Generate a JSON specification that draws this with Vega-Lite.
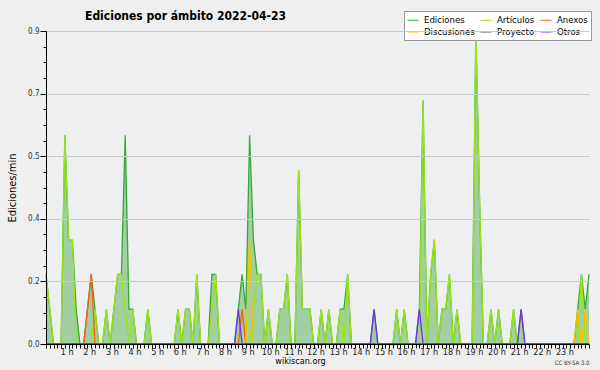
{
"$schema": "https://vega.github.io/schema/vega-lite/v6.json",
"width": 543, "height": 313,
"autosize": {"type": "none"},
"padding": {"left": 46, "top": 31, "right": 11, "bottom": 26},
"background": "#efefef",
"config": {"view": {"stroke": null, "fill": "#eeeff1"}, "font": "DejaVu Sans Condensed, DejaVu Sans"},
"title": {"text": "Ediciones por ámbito  2022-04-23", "anchor": "start", "frame": "group", "dx": 39, "offset": -21, "baseline": "alphabetic", "fontSize": 12, "fontWeight": "bold", "font": "DejaVu Sans Condensed, DejaVu Sans", "color": "#000"},
"data": {"values": [
{"minuto":0,"Ediciones":0.2,"Artículos":0.2,"Anexos":0,"Discusiones":0,"Proyecto":0,"Otros":0},
{"minuto":10,"Ediciones":0.1,"Artículos":0.1,"Anexos":0,"Discusiones":0,"Proyecto":0,"Otros":0},
{"minuto":20,"Ediciones":0,"Artículos":0,"Anexos":0,"Discusiones":0,"Proyecto":0,"Otros":0},
{"minuto":30,"Ediciones":0,"Artículos":0,"Anexos":0,"Discusiones":0,"Proyecto":0,"Otros":0},
{"minuto":40,"Ediciones":0,"Artículos":0,"Anexos":0,"Discusiones":0,"Proyecto":0,"Otros":0},
{"minuto":50,"Ediciones":0.6,"Artículos":0.6,"Anexos":0,"Discusiones":0,"Proyecto":0,"Otros":0},
{"minuto":60,"Ediciones":0.3,"Artículos":0.3,"Anexos":0,"Discusiones":0,"Proyecto":0,"Otros":0},
{"minuto":70,"Ediciones":0.3,"Artículos":0.3,"Anexos":0,"Discusiones":0,"Proyecto":0,"Otros":0},
{"minuto":80,"Ediciones":0.1,"Artículos":0,"Anexos":0,"Discusiones":0,"Proyecto":0,"Otros":0},
{"minuto":90,"Ediciones":0,"Artículos":0,"Anexos":0,"Discusiones":0,"Proyecto":0,"Otros":0},
{"minuto":100,"Ediciones":0,"Artículos":0,"Anexos":0,"Discusiones":0,"Proyecto":0,"Otros":0},
{"minuto":110,"Ediciones":0.1,"Artículos":0,"Anexos":0.1,"Discusiones":0,"Proyecto":0,"Otros":0},
{"minuto":120,"Ediciones":0.2,"Artículos":0,"Anexos":0.2,"Discusiones":0,"Proyecto":0,"Otros":0},
{"minuto":130,"Ediciones":0.1,"Artículos":0.1,"Anexos":0,"Discusiones":0,"Proyecto":0,"Otros":0},
{"minuto":140,"Ediciones":0,"Artículos":0,"Anexos":0,"Discusiones":0,"Proyecto":0,"Otros":0},
{"minuto":150,"Ediciones":0,"Artículos":0,"Anexos":0,"Discusiones":0,"Proyecto":0,"Otros":0},
{"minuto":160,"Ediciones":0.1,"Artículos":0.1,"Anexos":0,"Discusiones":0,"Proyecto":0,"Otros":0},
{"minuto":170,"Ediciones":0,"Artículos":0,"Anexos":0,"Discusiones":0,"Proyecto":0,"Otros":0},
{"minuto":180,"Ediciones":0.1,"Artículos":0.1,"Anexos":0,"Discusiones":0,"Proyecto":0,"Otros":0},
{"minuto":190,"Ediciones":0.2,"Artículos":0.2,"Anexos":0,"Discusiones":0,"Proyecto":0,"Otros":0},
{"minuto":200,"Ediciones":0.2,"Artículos":0.2,"Anexos":0,"Discusiones":0,"Proyecto":0,"Otros":0},
{"minuto":210,"Ediciones":0.6,"Artículos":0.1,"Anexos":0,"Discusiones":0,"Proyecto":0,"Otros":0},
{"minuto":220,"Ediciones":0.1,"Artículos":0,"Anexos":0,"Discusiones":0,"Proyecto":0,"Otros":0},
{"minuto":230,"Ediciones":0.1,"Artículos":0.1,"Anexos":0,"Discusiones":0,"Proyecto":0,"Otros":0},
{"minuto":240,"Ediciones":0,"Artículos":0,"Anexos":0,"Discusiones":0,"Proyecto":0,"Otros":0},
{"minuto":250,"Ediciones":0,"Artículos":0,"Anexos":0,"Discusiones":0,"Proyecto":0,"Otros":0},
{"minuto":260,"Ediciones":0,"Artículos":0,"Anexos":0,"Discusiones":0,"Proyecto":0,"Otros":0},
{"minuto":270,"Ediciones":0.1,"Artículos":0.1,"Anexos":0,"Discusiones":0,"Proyecto":0,"Otros":0},
{"minuto":280,"Ediciones":0,"Artículos":0,"Anexos":0,"Discusiones":0,"Proyecto":0,"Otros":0},
{"minuto":290,"Ediciones":0,"Artículos":0,"Anexos":0,"Discusiones":0,"Proyecto":0,"Otros":0},
{"minuto":300,"Ediciones":0,"Artículos":0,"Anexos":0,"Discusiones":0,"Proyecto":0,"Otros":0},
{"minuto":310,"Ediciones":0,"Artículos":0,"Anexos":0,"Discusiones":0,"Proyecto":0,"Otros":0},
{"minuto":320,"Ediciones":0,"Artículos":0,"Anexos":0,"Discusiones":0,"Proyecto":0,"Otros":0},
{"minuto":330,"Ediciones":0,"Artículos":0,"Anexos":0,"Discusiones":0,"Proyecto":0,"Otros":0},
{"minuto":340,"Ediciones":0,"Artículos":0,"Anexos":0,"Discusiones":0,"Proyecto":0,"Otros":0},
{"minuto":350,"Ediciones":0.1,"Artículos":0.1,"Anexos":0,"Discusiones":0,"Proyecto":0,"Otros":0},
{"minuto":360,"Ediciones":0,"Artículos":0,"Anexos":0,"Discusiones":0,"Proyecto":0,"Otros":0},
{"minuto":370,"Ediciones":0.1,"Artículos":0.1,"Anexos":0,"Discusiones":0,"Proyecto":0,"Otros":0},
{"minuto":380,"Ediciones":0.1,"Artículos":0.1,"Anexos":0,"Discusiones":0,"Proyecto":0,"Otros":0},
{"minuto":390,"Ediciones":0,"Artículos":0,"Anexos":0,"Discusiones":0,"Proyecto":0,"Otros":0},
{"minuto":400,"Ediciones":0.2,"Artículos":0.2,"Anexos":0,"Discusiones":0,"Proyecto":0,"Otros":0},
{"minuto":410,"Ediciones":0,"Artículos":0,"Anexos":0,"Discusiones":0,"Proyecto":0,"Otros":0},
{"minuto":420,"Ediciones":0,"Artículos":0,"Anexos":0,"Discusiones":0,"Proyecto":0,"Otros":0},
{"minuto":430,"Ediciones":0,"Artículos":0,"Anexos":0,"Discusiones":0,"Proyecto":0,"Otros":0},
{"minuto":440,"Ediciones":0.2,"Artículos":0.1,"Anexos":0,"Discusiones":0,"Proyecto":0,"Otros":0},
{"minuto":450,"Ediciones":0.2,"Artículos":0.2,"Anexos":0,"Discusiones":0,"Proyecto":0,"Otros":0},
{"minuto":460,"Ediciones":0,"Artículos":0,"Anexos":0,"Discusiones":0,"Proyecto":0,"Otros":0},
{"minuto":470,"Ediciones":0,"Artículos":0,"Anexos":0,"Discusiones":0,"Proyecto":0,"Otros":0},
{"minuto":480,"Ediciones":0,"Artículos":0,"Anexos":0,"Discusiones":0,"Proyecto":0,"Otros":0},
{"minuto":490,"Ediciones":0,"Artículos":0,"Anexos":0,"Discusiones":0,"Proyecto":0,"Otros":0},
{"minuto":500,"Ediciones":0,"Artículos":0,"Anexos":0,"Discusiones":0,"Proyecto":0,"Otros":0},
{"minuto":510,"Ediciones":0.1,"Artículos":0,"Anexos":0,"Discusiones":0,"Proyecto":0,"Otros":0.1},
{"minuto":520,"Ediciones":0.2,"Artículos":0.1,"Anexos":0.1,"Discusiones":0,"Proyecto":0,"Otros":0},
{"minuto":530,"Ediciones":0.1,"Artículos":0,"Anexos":0,"Discusiones":0,"Proyecto":0,"Otros":0},
{"minuto":540,"Ediciones":0.6,"Artículos":0,"Anexos":0,"Discusiones":0.3,"Proyecto":0,"Otros":0},
{"minuto":550,"Ediciones":0.3,"Artículos":0.1,"Anexos":0,"Discusiones":0,"Proyecto":0,"Otros":0},
{"minuto":560,"Ediciones":0.2,"Artículos":0.2,"Anexos":0,"Discusiones":0,"Proyecto":0,"Otros":0},
{"minuto":570,"Ediciones":0.2,"Artículos":0.2,"Anexos":0,"Discusiones":0,"Proyecto":0,"Otros":0},
{"minuto":580,"Ediciones":0,"Artículos":0,"Anexos":0,"Discusiones":0,"Proyecto":0,"Otros":0},
{"minuto":590,"Ediciones":0.1,"Artículos":0.1,"Anexos":0,"Discusiones":0,"Proyecto":0,"Otros":0},
{"minuto":600,"Ediciones":0,"Artículos":0,"Anexos":0,"Discusiones":0,"Proyecto":0,"Otros":0},
{"minuto":610,"Ediciones":0,"Artículos":0,"Anexos":0,"Discusiones":0,"Proyecto":0,"Otros":0},
{"minuto":620,"Ediciones":0.1,"Artículos":0.1,"Anexos":0,"Discusiones":0,"Proyecto":0,"Otros":0},
{"minuto":630,"Ediciones":0.1,"Artículos":0.1,"Anexos":0,"Discusiones":0,"Proyecto":0,"Otros":0},
{"minuto":640,"Ediciones":0.2,"Artículos":0.2,"Anexos":0,"Discusiones":0,"Proyecto":0,"Otros":0},
{"minuto":650,"Ediciones":0,"Artículos":0,"Anexos":0,"Discusiones":0,"Proyecto":0,"Otros":0},
{"minuto":660,"Ediciones":0,"Artículos":0,"Anexos":0,"Discusiones":0,"Proyecto":0,"Otros":0},
{"minuto":670,"Ediciones":0.5,"Artículos":0.5,"Anexos":0,"Discusiones":0,"Proyecto":0,"Otros":0},
{"minuto":680,"Ediciones":0.1,"Artículos":0.1,"Anexos":0,"Discusiones":0,"Proyecto":0,"Otros":0},
{"minuto":690,"Ediciones":0.1,"Artículos":0.1,"Anexos":0,"Discusiones":0,"Proyecto":0,"Otros":0},
{"minuto":700,"Ediciones":0.1,"Artículos":0.1,"Anexos":0,"Discusiones":0,"Proyecto":0,"Otros":0},
{"minuto":710,"Ediciones":0,"Artículos":0,"Anexos":0,"Discusiones":0,"Proyecto":0,"Otros":0},
{"minuto":720,"Ediciones":0,"Artículos":0,"Anexos":0,"Discusiones":0,"Proyecto":0,"Otros":0},
{"minuto":730,"Ediciones":0.1,"Artículos":0.1,"Anexos":0,"Discusiones":0,"Proyecto":0,"Otros":0},
{"minuto":740,"Ediciones":0,"Artículos":0,"Anexos":0,"Discusiones":0,"Proyecto":0,"Otros":0},
{"minuto":750,"Ediciones":0.1,"Artículos":0.1,"Anexos":0,"Discusiones":0,"Proyecto":0,"Otros":0},
{"minuto":760,"Ediciones":0,"Artículos":0,"Anexos":0,"Discusiones":0,"Proyecto":0,"Otros":0},
{"minuto":770,"Ediciones":0,"Artículos":0,"Anexos":0,"Discusiones":0,"Proyecto":0,"Otros":0},
{"minuto":780,"Ediciones":0.1,"Artículos":0.1,"Anexos":0,"Discusiones":0,"Proyecto":0,"Otros":0},
{"minuto":790,"Ediciones":0.1,"Artículos":0,"Anexos":0,"Discusiones":0,"Proyecto":0,"Otros":0},
{"minuto":800,"Ediciones":0.2,"Artículos":0.2,"Anexos":0,"Discusiones":0,"Proyecto":0,"Otros":0},
{"minuto":810,"Ediciones":0,"Artículos":0,"Anexos":0,"Discusiones":0,"Proyecto":0,"Otros":0},
{"minuto":820,"Ediciones":0,"Artículos":0,"Anexos":0,"Discusiones":0,"Proyecto":0,"Otros":0},
{"minuto":830,"Ediciones":0,"Artículos":0,"Anexos":0,"Discusiones":0,"Proyecto":0,"Otros":0},
{"minuto":840,"Ediciones":0,"Artículos":0,"Anexos":0,"Discusiones":0,"Proyecto":0,"Otros":0},
{"minuto":850,"Ediciones":0,"Artículos":0,"Anexos":0,"Discusiones":0,"Proyecto":0,"Otros":0},
{"minuto":860,"Ediciones":0,"Artículos":0,"Anexos":0,"Discusiones":0,"Proyecto":0,"Otros":0},
{"minuto":870,"Ediciones":0.1,"Artículos":0,"Anexos":0,"Discusiones":0,"Proyecto":0,"Otros":0.1},
{"minuto":880,"Ediciones":0,"Artículos":0,"Anexos":0,"Discusiones":0,"Proyecto":0,"Otros":0},
{"minuto":890,"Ediciones":0,"Artículos":0,"Anexos":0,"Discusiones":0,"Proyecto":0,"Otros":0},
{"minuto":900,"Ediciones":0,"Artículos":0,"Anexos":0,"Discusiones":0,"Proyecto":0,"Otros":0},
{"minuto":910,"Ediciones":0,"Artículos":0,"Anexos":0,"Discusiones":0,"Proyecto":0,"Otros":0},
{"minuto":920,"Ediciones":0,"Artículos":0,"Anexos":0,"Discusiones":0,"Proyecto":0,"Otros":0},
{"minuto":930,"Ediciones":0.1,"Artículos":0.1,"Anexos":0,"Discusiones":0,"Proyecto":0,"Otros":0},
{"minuto":940,"Ediciones":0,"Artículos":0,"Anexos":0,"Discusiones":0,"Proyecto":0,"Otros":0},
{"minuto":950,"Ediciones":0.1,"Artículos":0.1,"Anexos":0,"Discusiones":0,"Proyecto":0,"Otros":0},
{"minuto":960,"Ediciones":0,"Artículos":0,"Anexos":0,"Discusiones":0,"Proyecto":0,"Otros":0},
{"minuto":970,"Ediciones":0,"Artículos":0,"Anexos":0,"Discusiones":0,"Proyecto":0,"Otros":0},
{"minuto":980,"Ediciones":0,"Artículos":0,"Anexos":0,"Discusiones":0,"Proyecto":0,"Otros":0},
{"minuto":990,"Ediciones":0.1,"Artículos":0,"Anexos":0,"Discusiones":0,"Proyecto":0,"Otros":0.1},
{"minuto":1000,"Ediciones":0.7,"Artículos":0.7,"Anexos":0,"Discusiones":0,"Proyecto":0,"Otros":0},
{"minuto":1010,"Ediciones":0,"Artículos":0,"Anexos":0,"Discusiones":0,"Proyecto":0,"Otros":0},
{"minuto":1020,"Ediciones":0.2,"Artículos":0.2,"Anexos":0,"Discusiones":0,"Proyecto":0,"Otros":0},
{"minuto":1030,"Ediciones":0.3,"Artículos":0.3,"Anexos":0,"Discusiones":0,"Proyecto":0,"Otros":0},
{"minuto":1040,"Ediciones":0,"Artículos":0,"Anexos":0,"Discusiones":0,"Proyecto":0,"Otros":0},
{"minuto":1050,"Ediciones":0.1,"Artículos":0.1,"Anexos":0,"Discusiones":0,"Proyecto":0,"Otros":0},
{"minuto":1060,"Ediciones":0.1,"Artículos":0.1,"Anexos":0,"Discusiones":0,"Proyecto":0,"Otros":0},
{"minuto":1070,"Ediciones":0.2,"Artículos":0.2,"Anexos":0,"Discusiones":0,"Proyecto":0,"Otros":0},
{"minuto":1080,"Ediciones":0,"Artículos":0,"Anexos":0,"Discusiones":0,"Proyecto":0,"Otros":0},
{"minuto":1090,"Ediciones":0.1,"Artículos":0.1,"Anexos":0,"Discusiones":0,"Proyecto":0,"Otros":0},
{"minuto":1100,"Ediciones":0,"Artículos":0,"Anexos":0,"Discusiones":0,"Proyecto":0,"Otros":0},
{"minuto":1110,"Ediciones":0,"Artículos":0,"Anexos":0,"Discusiones":0,"Proyecto":0,"Otros":0},
{"minuto":1120,"Ediciones":0,"Artículos":0,"Anexos":0,"Discusiones":0,"Proyecto":0,"Otros":0},
{"minuto":1130,"Ediciones":0,"Artículos":0,"Anexos":0,"Discusiones":0,"Proyecto":0,"Otros":0},
{"minuto":1140,"Ediciones":0.9,"Artículos":0.9,"Anexos":0,"Discusiones":0,"Proyecto":0,"Otros":0},
{"minuto":1150,"Ediciones":0.4,"Artículos":0.4,"Anexos":0,"Discusiones":0,"Proyecto":0,"Otros":0},
{"minuto":1160,"Ediciones":0,"Artículos":0,"Anexos":0,"Discusiones":0,"Proyecto":0,"Otros":0},
{"minuto":1170,"Ediciones":0,"Artículos":0,"Anexos":0,"Discusiones":0,"Proyecto":0,"Otros":0},
{"minuto":1180,"Ediciones":0.1,"Artículos":0.1,"Anexos":0,"Discusiones":0,"Proyecto":0,"Otros":0},
{"minuto":1190,"Ediciones":0,"Artículos":0,"Anexos":0,"Discusiones":0,"Proyecto":0,"Otros":0},
{"minuto":1200,"Ediciones":0.1,"Artículos":0.1,"Anexos":0,"Discusiones":0,"Proyecto":0,"Otros":0},
{"minuto":1210,"Ediciones":0,"Artículos":0,"Anexos":0,"Discusiones":0,"Proyecto":0,"Otros":0},
{"minuto":1220,"Ediciones":0,"Artículos":0,"Anexos":0,"Discusiones":0,"Proyecto":0,"Otros":0},
{"minuto":1230,"Ediciones":0,"Artículos":0,"Anexos":0,"Discusiones":0,"Proyecto":0,"Otros":0},
{"minuto":1240,"Ediciones":0.1,"Artículos":0.1,"Anexos":0,"Discusiones":0,"Proyecto":0,"Otros":0},
{"minuto":1250,"Ediciones":0,"Artículos":0,"Anexos":0,"Discusiones":0,"Proyecto":0,"Otros":0},
{"minuto":1260,"Ediciones":0.1,"Artículos":0,"Anexos":0,"Discusiones":0,"Proyecto":0,"Otros":0.1},
{"minuto":1270,"Ediciones":0,"Artículos":0,"Anexos":0,"Discusiones":0,"Proyecto":0,"Otros":0},
{"minuto":1280,"Ediciones":0,"Artículos":0,"Anexos":0,"Discusiones":0,"Proyecto":0,"Otros":0},
{"minuto":1290,"Ediciones":0,"Artículos":0,"Anexos":0,"Discusiones":0,"Proyecto":0,"Otros":0},
{"minuto":1300,"Ediciones":0,"Artículos":0,"Anexos":0,"Discusiones":0,"Proyecto":0,"Otros":0},
{"minuto":1310,"Ediciones":0,"Artículos":0,"Anexos":0,"Discusiones":0,"Proyecto":0,"Otros":0},
{"minuto":1320,"Ediciones":0,"Artículos":0,"Anexos":0,"Discusiones":0,"Proyecto":0,"Otros":0},
{"minuto":1330,"Ediciones":0,"Artículos":0,"Anexos":0,"Discusiones":0,"Proyecto":0,"Otros":0},
{"minuto":1340,"Ediciones":0,"Artículos":0,"Anexos":0,"Discusiones":0,"Proyecto":0,"Otros":0},
{"minuto":1350,"Ediciones":0,"Artículos":0,"Anexos":0,"Discusiones":0,"Proyecto":0,"Otros":0},
{"minuto":1360,"Ediciones":0,"Artículos":0,"Anexos":0,"Discusiones":0,"Proyecto":0,"Otros":0},
{"minuto":1370,"Ediciones":0,"Artículos":0,"Anexos":0,"Discusiones":0,"Proyecto":0,"Otros":0},
{"minuto":1380,"Ediciones":0,"Artículos":0,"Anexos":0,"Discusiones":0,"Proyecto":0,"Otros":0},
{"minuto":1390,"Ediciones":0,"Artículos":0,"Anexos":0,"Discusiones":0,"Proyecto":0,"Otros":0},
{"minuto":1400,"Ediciones":0,"Artículos":0,"Anexos":0,"Discusiones":0,"Proyecto":0,"Otros":0},
{"minuto":1410,"Ediciones":0.1,"Artículos":0,"Anexos":0,"Discusiones":0.1,"Proyecto":0,"Otros":0},
{"minuto":1420,"Ediciones":0.2,"Artículos":0.2,"Anexos":0,"Discusiones":0,"Proyecto":0,"Otros":0},
{"minuto":1430,"Ediciones":0.1,"Artículos":0,"Anexos":0,"Discusiones":0.1,"Proyecto":0,"Otros":0},
{"minuto":1440,"Ediciones":0.2,"Artículos":0,"Anexos":0,"Discusiones":0,"Proyecto":0,"Otros":0}
]},
"resolve": {"axis": {"x": "independent"}},
"layer": [
{"mark": {"type": "area", "color": "#a2cfa2", "opacity": 1, "interpolate": "linear"},
 "encoding": {
  "x": {"field": "minuto", "type": "quantitative", "scale": {"domain": [0, 1440], "nice": false, "zero": false},
    "axis": {"orient": "bottom", "title": "wikiscan.org", "titleFontSize": 9, "titleFontWeight": "normal", "titleColor": "#000", "titleX": 254, "titleY": 19, "titleBaseline": "alphabetic", "titleAlign": "center",
      "tickCount": 144, "labelExpr": "datum.value % 60 == 0 && datum.value > 0 && datum.value < 1440 ? (datum.value / 60) + ' h' : ''",
      "labelFontSize": 9, "labelColor": "#222", "labelPadding": -1, "labelOffset": -2, "labelOverlap": false, "labelBound": false, "labelFlush": false,
      "tickSize": 4, "tickColor": "#000", "domainColor": "#000", "grid": false, "zindex": 1}},
  "y": {"field": "Ediciones", "type": "quantitative", "scale": {"domain": [0, 0.9], "nice": false},
    "axis": {"title": "Ediciones/min", "titleFontSize": 11, "titleFontWeight": "normal", "titleColor": "#000", "titlePadding": 10,
      "values": [0,0.045,0.09,0.135,0.18,0.225,0.27,0.315,0.36,0.405,0.45,0.495,0.54,0.585,0.63,0.675,0.72,0.765,0.81,0.855,0.9],
      "labelExpr": "round(datum.value / 0.045) % 4 == 0 ? format(datum.value, '.1f') : ''",
      "labelFontSize": 8, "labelColor": "#333", "labelPadding": 1, "labelOverlap": false, "labelBound": false, "labelFlush": false,
      "tickColor": "#000", "domainColor": "#000",
      "tickSize": {"condition": {"test": "round(datum.value / 0.045) % 4 == 0", "value": 6}, "value": 3},
      "grid": true, "gridColor": "#c8c8c8",
      "gridOpacity": {"condition": {"test": "round(datum.value / 0.045) % 4 == 0 && datum.value > 0", "value": 1}, "value": 0},
      "zindex": 1}}
 }},
{"transform": [{"fold": ["Ediciones", "Artículos", "Anexos", "Discusiones", "Proyecto", "Otros"], "as": ["ambito", "valor"]}],
 "mark": {"type": "line", "interpolate": "linear", "strokeWidth": 1.3},
 "encoding": {
  "x": {"field": "minuto", "type": "quantitative",
    "axis": {"orient": "bottom", "title": "CC BY-SA 3.0", "titleFontSize": 6, "titleFontWeight": "normal", "titleColor": "#333", "titleX": 543, "titleY": 20, "titleAlign": "right", "titleBaseline": "alphabetic", "domain": false, "ticks": false, "labels": false, "grid": false}},
  "y": {"field": "valor", "type": "quantitative",
    "axis": {"title": "Ediciones/min", "titleFontSize": 11, "titleFontWeight": "normal", "titleColor": "#000", "titlePadding": 10,
      "values": [0,0.045,0.09,0.135,0.18,0.225,0.27,0.315,0.36,0.405,0.45,0.495,0.54,0.585,0.63,0.675,0.72,0.765,0.81,0.855,0.9],
      "labelExpr": "round(datum.value / 0.045) % 4 == 0 ? format(datum.value, '.1f') : ''",
      "labelFontSize": 8, "labelColor": "#333", "labelPadding": 1, "labelOverlap": false, "labelBound": false, "labelFlush": false,
      "tickColor": "#000", "domainColor": "#000",
      "tickSize": {"condition": {"test": "round(datum.value / 0.045) % 4 == 0", "value": 6}, "value": 3},
      "grid": true, "gridColor": "#c8c8c8",
      "gridOpacity": {"condition": {"test": "round(datum.value / 0.045) % 4 == 0 && datum.value > 0", "value": 1}, "value": 0},
      "zindex": 1}},
  "color": {"field": "ambito", "type": "nominal",
    "scale": {"domain": ["Ediciones", "Artículos", "Anexos", "Discusiones", "Proyecto", "Otros"], "range": ["#36a836", "#9de31b", "#ff5a14", "#f2c500", "#555555", "#7a2cf0"]},
    "legend": {"title": null, "orient": "none", "legendX": 358, "legendY": -20, "direction": "horizontal", "columns": 3,
      "symbolType": "stroke", "symbolSize": 121, "symbolStrokeWidth": 1, "labelFontSize": 9.5, "labelColor": "#000", "labelOffset": 5, "labelLimit": 200,
      "fillColor": "#ffffff", "strokeColor": "#999999", "padding": 3, "rowPadding": 1, "columnPadding": 3}}
 }}
]
}
